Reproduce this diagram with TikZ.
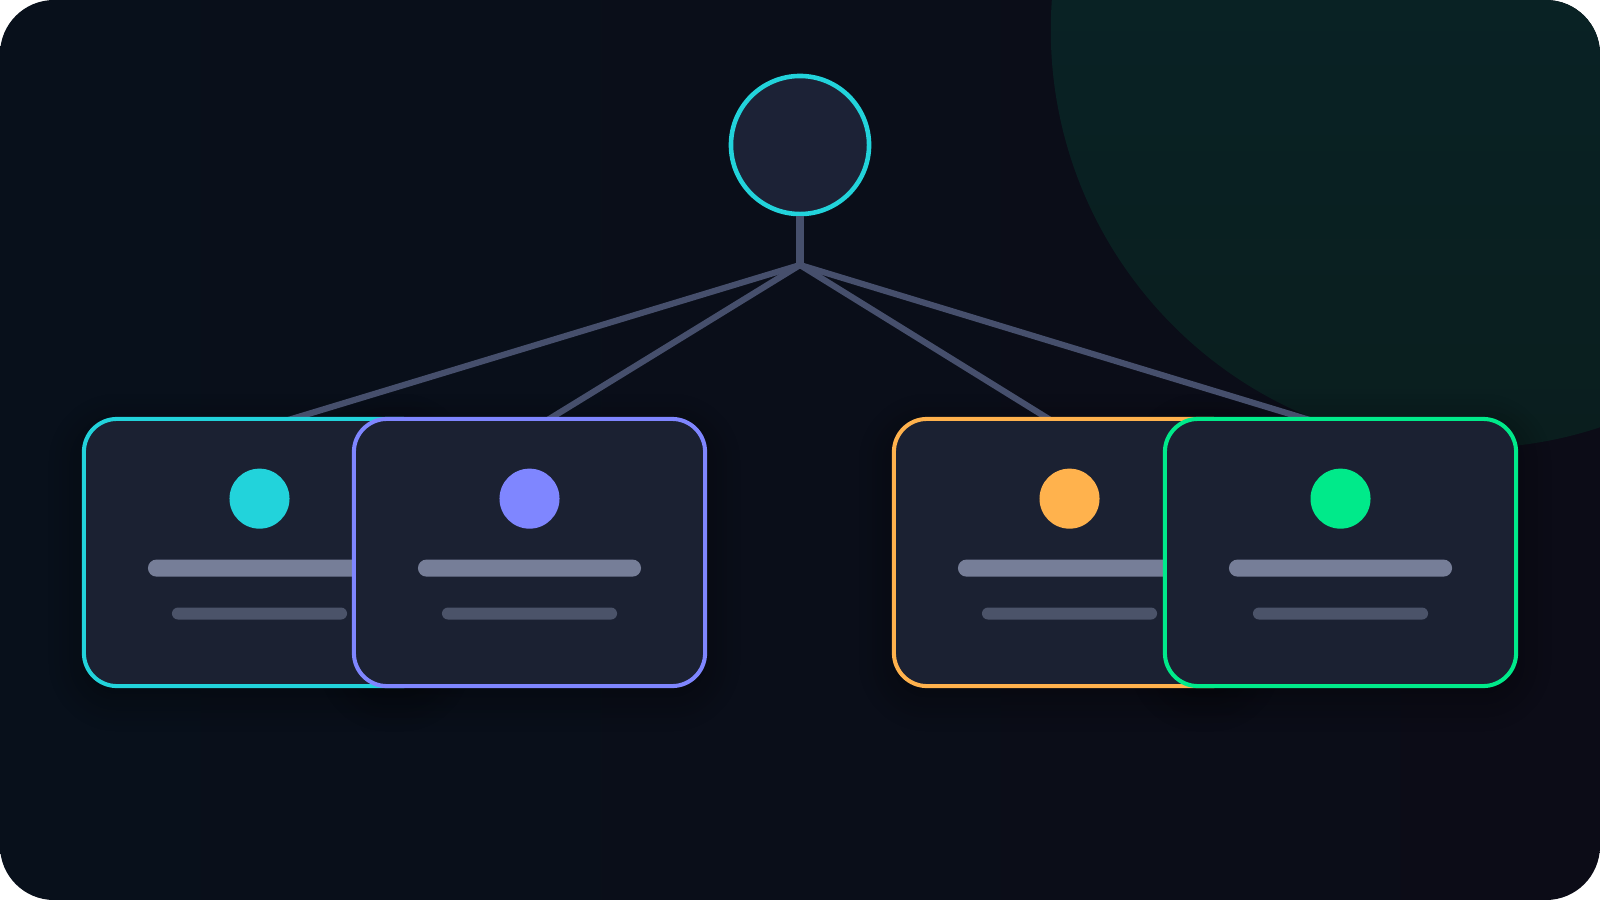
\documentclass[tikz,border=0pt]{standalone}
\usepackage{tikz}
\usepackage{xcolor}
\usetikzlibrary{positioning}
\usetikzlibrary{shadows.blur}

\definecolor{bgA}{HTML}{08101B}
\definecolor{bgB}{HTML}{0C0C17}
\definecolor{glowA}{HTML}{08252A}
\definecolor{glowB}{HTML}{0A1E1E}
\definecolor{cardfill}{HTML}{1B2132}
\definecolor{rootfill}{HTML}{1C2236}
\definecolor{cyancol}{HTML}{22D3DB}
\definecolor{purplecol}{HTML}{7F86FF}
\definecolor{orangecol}{HTML}{FFB24D}
\definecolor{greencol}{HTML}{00EA8A}
\definecolor{barA}{HTML}{767E98}
\definecolor{barB}{HTML}{4B5369}
\definecolor{linkcol}{HTML}{464F6C}

\begin{document}
\begin{tikzpicture}[x=0.01cm, y=-0.01cm,
    card/.style={draw, fill=cardfill, rounded corners=0.33cm, minimum width=3.51cm, minimum height=2.67cm, line width=1.15pt, inner sep=0pt},
    dot/.style={circle, minimum size=0.6cm, inner sep=0pt},
    barlong/.style={fill=barA, rounded corners=0.085cm, minimum width=2.23cm, minimum height=0.17cm, inner sep=0pt},
    barshort/.style={fill=barB, rounded corners=0.06cm, minimum width=1.75cm, minimum height=0.12cm, inner sep=0pt},
    link/.style={draw=linkcol, line width=1.75pt},
    stem/.style={draw=linkcol, line width=2.3pt},
    cardshade/.style={rounded corners=0.33cm, blur shadow={shadow xshift=0pt, shadow yshift=-0.1cm, shadow blur radius=0.35cm, shadow opacity=45, shadow blur steps=14}}]

    \useasboundingbox (0,0) rectangle (1600,900);
    \fill[white] (0,0) rectangle (1600,900);

    \begin{scope}
        \clip[rounded corners=0.54cm] (0,0) rectangle (1600,900);
        \shade[left color=bgA, right color=bgB] (0,0) rectangle (1600,900);
        \shade[top color=glowA, bottom color=glowB] (1469,30) circle[radius=4.18cm];
    \end{scope}

    % shadows under the cards
    \path[cardshade] (84,419) rectangle (435,686);
    \path[cardshade] (354,419) rectangle (705,686);
    \path[cardshade] (894,419) rectangle (1245,686);
    \path[cardshade] (1165,419) rectangle (1516,686);

    \node[circle, draw=cyancol, fill=rootfill, line width=1.3pt, minimum size=1.38cm, inner sep=0pt] (root) at (800,145) {};
    \coordinate (hub) at (800,265);
    \coordinate (t1) at (285,421);
    \coordinate (t2) at (546,421);
    \coordinate (t3) at (1052,421);
    \coordinate (t4) at (1313,421);

    \draw[stem] (root.south) -- (hub);
    \draw[link] (hub) -- (t1);
    \draw[link] (hub) -- (t2);
    \draw[link] (hub) -- (t3);
    \draw[link] (hub) -- (t4);

    % left pair
    \node[card, draw=cyancol] (c1) at (259.5,552.5) {};
    \node[dot, fill=cyancol, below=0.51cm of c1.north] (d1) {};
    \node[barlong, below=0.295cm of d1] (b1a) {};
    \node[barshort, below=0.295cm of b1a] (b1b) {};

    \node[card, draw=purplecol] (c2) at (529.5,552.5) {};
    \node[dot, fill=purplecol, below=0.51cm of c2.north] (d2) {};
    \node[barlong, below=0.295cm of d2] (b2a) {};
    \node[barshort, below=0.295cm of b2a] (b2b) {};

    % right pair
    \node[card, draw=orangecol] (c3) at (1069.5,552.5) {};
    \node[dot, fill=orangecol, below=0.51cm of c3.north] (d3) {};
    \node[barlong, below=0.295cm of d3] (b3a) {};
    \node[barshort, below=0.295cm of b3a] (b3b) {};

    \node[card, draw=greencol] (c4) at (1340.5,552.5) {};
    \node[dot, fill=greencol, below=0.51cm of c4.north] (d4) {};
    \node[barlong, below=0.295cm of d4] (b4a) {};
    \node[barshort, below=0.295cm of b4a] (b4b) {};

\end{tikzpicture}
\end{document}
